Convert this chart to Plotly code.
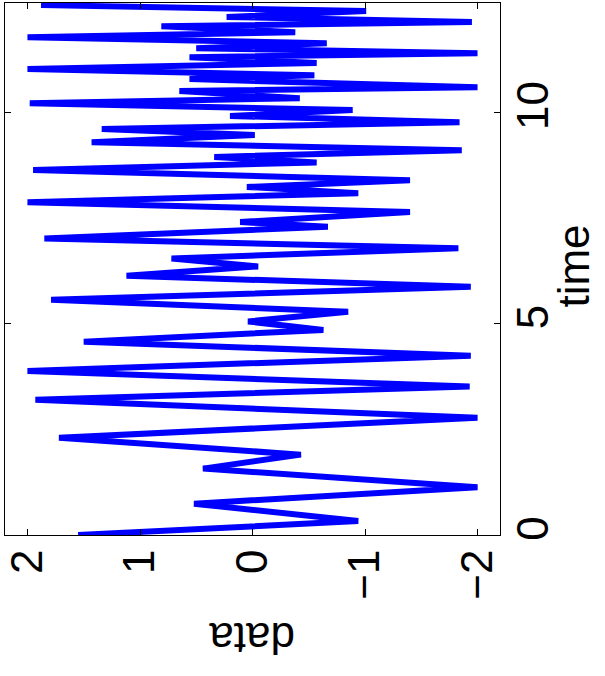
import plotly.graph_objects as go

# Turning points of the signal read from the (rotated) reference chart
time_pts = [0.00, 0.33, 0.74, 1.13, 1.57, 1.90, 2.30, 2.77, 3.20, 3.51,
            3.88, 4.24, 4.57, 4.85, 5.05, 5.28, 5.56, 5.87, 6.13, 6.35,
            6.54, 6.78, 7.01, 7.29, 7.40, 7.64, 7.87, 8.08, 8.23, 8.39,
            8.63, 8.81, 8.94, 9.10, 9.29, 9.46, 9.60, 9.76, 9.91, 10.05,
            10.21, 10.33, 10.50, 10.59, 10.78, 10.87, 11.02, 11.16, 11.30, 11.39,
            11.51, 11.63, 11.77, 11.89, 12.03, 12.13, 12.25, 12.39, 12.53]
data_vals = [1.55, -0.94, 0.52, -2.00, 0.44, -0.43, 1.72, -2.00, 1.93, -1.93,
             2.00, -1.94, 1.50, -0.63, 0.04, -0.85, 1.79, -1.94, 1.12, -0.05,
             0.72, -1.83, 1.85, -0.67, 0.11, -1.40, 2.00, -0.94, 0.05, -1.40,
             1.95, -0.57, 0.34, -1.86, 1.43, -0.02, 1.34, -1.84, 0.20, -0.89,
             1.98, -0.42, 0.65, -2.00, 0.56, -0.55, 2.00, -0.57, 0.56, -2.00,
             0.50, -0.66, 2.00, -0.38, 0.81, -1.95, 0.23, -1.01, 1.88]

data_ticks = [-2, -1, 0, 1, 2]
time_ticks = [0, 5, 10]

FONT = "Liberation Sans, Arial, sans-serif"

fig = go.Figure()
fig.add_trace(go.Scatter(
    x=data_vals, y=time_pts, mode="lines",
    line=dict(color="#0000FF", width=6),
    hoverinfo="skip", showlegend=False,
))

fig.update_layout(
    width=605, height=676,
    margin=dict(l=5, r=105, t=3, b=141),
    paper_bgcolor="white", plot_bgcolor="white",
    font=dict(family=FONT, size=44, color="black"),
    showlegend=False,
)

fig.update_xaxes(
    range=[2.2, -2.2], tickvals=data_ticks,
    ticks="inside", ticklen=6, tickcolor="black",
    showline=True, linecolor="black", linewidth=1, mirror="allticks",
    showgrid=False, zeroline=False, tickangle=-90,
    tickfont=dict(family=FONT, size=44), ticklabelstandoff=-4,
)
fig.update_yaxes(
    range=[0, 12.58], tickvals=time_ticks, side="right",
    ticks="inside", ticklen=6, tickcolor="black",
    showline=True, linecolor="black", linewidth=1, mirror="allticks",
    showgrid=False, zeroline=False, tickangle=-90,
    tickfont=dict(family=FONT, size=44), ticklabelstandoff=-6,
)

fig.add_annotation(text="time", xref="paper", yref="paper",
                   x=1.1466, y=0.5056, xanchor="center", yanchor="middle",
                   textangle=-90, showarrow=False,
                   font=dict(family=FONT, size=44, color="black"))
fig.add_annotation(text="data", xref="paper", yref="paper",
                   x=0.5, y=-0.1936, xanchor="center", yanchor="middle",
                   textangle=180, showarrow=False,
                   font=dict(family=FONT, size=44, color="black"))

fig.write_html("out.html", config={"displayModeBar": False},
               post_script="document.body.style.margin='0';")
